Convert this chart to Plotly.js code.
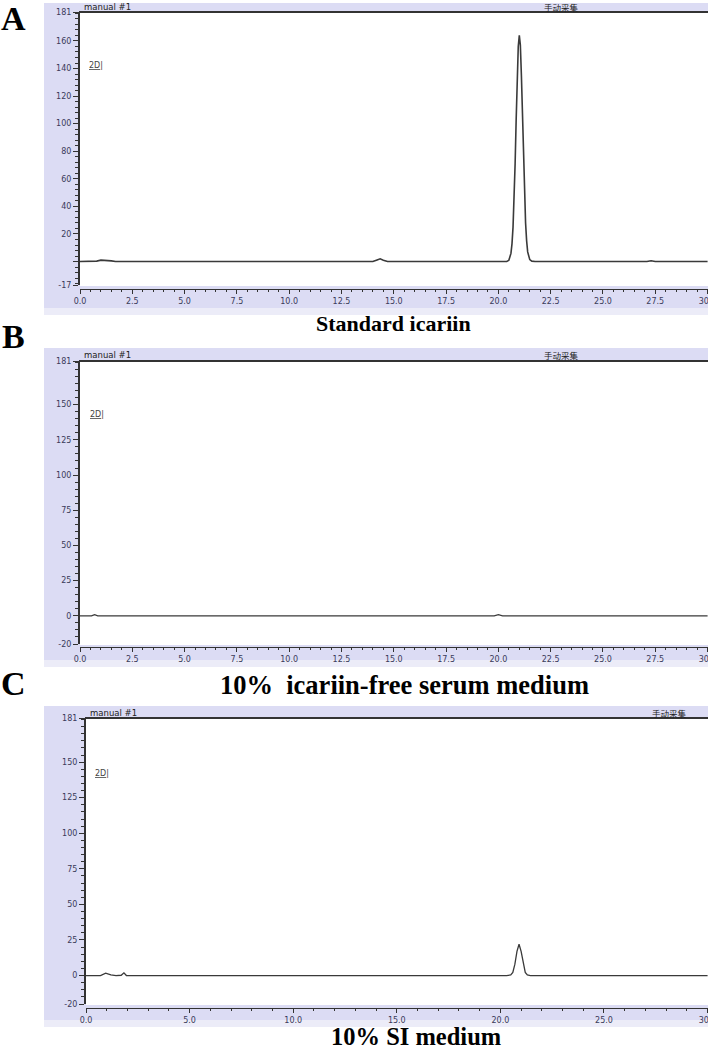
<!DOCTYPE html>
<html>
<head>
<meta charset="utf-8">
<script src="https://cdn.plot.ly/plotly-3.0.1.min.js"></script>
<style>body{margin:0;background:#fff}</style>
</head>
<body>
<div id="chart" style="width:708px;height:1050px"></div>
<script>
// retention time (min) and detector signal
const timeA = [0, 0.8, 1.0, 1.2, 1.5, 1.7, 14.0, 14.2, 14.35, 14.5, 14.7, 20.4, 20.5, 20.6, 20.65, 20.7, 20.75, 20.8, 20.85, 20.9, 20.95, 21.0, 21.05, 21.1, 21.15, 21.2, 21.25, 21.3, 21.35, 21.4, 21.5, 21.6, 21.75, 27.1, 27.3, 27.5, 30];
const signalA = [0, 0.3, 1.0, 1.0, 0.5, 0, 0, 1.2, 2.0, 1.0, 0, 0, 0.9, 5.9, 12.8, 25, 45, 71, 103, 133, 156, 164, 157, 135, 106, 75, 48, 28, 15, 7, 1.4, 0.3, 0, 0, 0.6, 0, 0];

const timeB = [0, 0.55, 0.7, 0.85, 19.8, 20.0, 20.2, 30];
const signalB = [0, 0, 0.8, 0, 0, 0.8, 0, 0];

const timeC = [0, 0.7, 0.95, 1.2, 1.45, 1.7, 1.83, 1.95, 20.3, 20.5, 20.6, 20.7, 20.8, 20.9, 21.0, 21.1, 21.2, 21.3, 21.45, 30];
const signalC = [0, 0, 1.7, 0.5, 0, 0.2, 1.9, 0, 0, 0.4, 2.2, 8, 17, 22, 17, 8, 2.2, 0.4, 0, 0];

// tick labels
const yTicksA = [181, 160, 140, 120, 100, 80, 60, 40, 20, 0, -17];
const yTextA = ['181', '160', '140', '120', '100', '80', '60', '40', '20', '', '-17'];
const yTicksBC = [181, 150, 125, 100, 75, 50, 25, 0, -20];
const yTextBC = ['181', '150', '125', '100', '75', '50', '25', '0', '-20'];

const panelLetters = ['A', 'B', 'C'];
const captions = ['Standard icariin', '10%&nbsp; icariin-free serum medium', '10% SI medium'];

const W = 708, H = 1050;
const px = x => x / W;
const py = y => 1 - y / H;

const lav = '#dcdcf4';
const axisColor = '#333';
const tickFont = { family: 'DejaVu Sans', size: 8, color: '#3a3a5a' };

function makeX(left, pos, step, minorStep) {
    return {
        domain: [px(left), 1],
        range: [0, 30.02],
        anchor: 'free',
        position: py(pos),
        dtick: step,
        tick0: 0,
        tickformat: '.1f',
        ticks: 'outside',
        ticklen: 4,
        tickcolor: axisColor,
        ticklabeloverflow: 'allow',
        minor: { dtick: minorStep, tick0: 0, ticks: 'outside', ticklen: 2, tickcolor: axisColor },
        showline: true,
        linecolor: axisColor,
        linewidth: 1,
        showgrid: false,
        zeroline: false,
        tickfont: tickFont,
    };
}

function makeY(top, bottom, range, vals, text, minorStep, xname) {
    return {
        domain: [py(bottom), py(top)],
        range: range,
        anchor: xname,
        tickmode: 'array',
        tickvals: vals,
        ticktext: text,
        ticks: 'outside',
        ticklen: 5,
        tickcolor: axisColor,
        minor: { dtick: minorStep, tick0: 0, ticks: 'outside', ticklen: 3, tickcolor: axisColor },
        showline: true,
        linecolor: axisColor,
        linewidth: 2,
        showgrid: false,
        zeroline: false,
        tickfont: tickFont,
    };
}

const lineStyle = { color: '#3a3a3a', width: 1.3 };
const data = [
    { x: timeA, y: signalA, xaxis: 'x', yaxis: 'y', mode: 'lines', line: { color: '#3a3a3a', width: 1.6 } },
    { x: timeB, y: signalB, xaxis: 'x2', yaxis: 'y2', mode: 'lines', line: lineStyle },
    { x: timeC, y: signalC, xaxis: 'x3', yaxis: 'y3', mode: 'lines', line: lineStyle },
];

// pixel boxes of the three panels: lavender frame, plot area, x axis line, captions
const panels = [
    { bgTop: 3, bgBottom: 308, shade: 315, left: 80, top: 12, bottom: 285, headY: 7, cnX: 561, capY: 323, capX: 393, capSize: 22, letterY: 19, tagY: 65, tagX: 87 },
    { bgTop: 348, bgBottom: 660, shade: 667, left: 80, top: 361, bottom: 644, headY: 355, cnX: 561, capY: 685, capX: 404, capSize: 26.5, letterY: 337, tagY: 415, tagX: 88 },
    { bgTop: 706, bgBottom: 1020, shade: 1027, left: 86, top: 718, bottom: 1004, headY: 713, cnX: 669, capY: 1036, capX: 416, capSize: 24.5, letterY: 683, tagY: 773, tagX: 93 },
];

const shapes = [];
const annotations = [];
panels.forEach((p, i) => {
    shapes.push({ type: 'rect', xref: 'paper', yref: 'paper', x0: px(44), x1: 1, y0: py(p.bgBottom), y1: py(p.bgTop), fillcolor: lav, line: { width: 0 }, layer: 'below' });
    shapes.push({ type: 'rect', xref: 'paper', yref: 'paper', x0: px(44), x1: 1, y0: py(p.shade), y1: py(p.bgBottom), fillcolor: '#ececf8', line: { width: 0 }, layer: 'below' });
    shapes.push({ type: 'rect', xref: 'paper', yref: 'paper', x0: px(p.left), x1: 1, y0: py(p.bottom + 1), y1: py(p.top), fillcolor: '#ffffff', line: { width: 0 }, layer: 'below' });
    shapes.push({ type: 'line', xref: 'paper', yref: 'paper', x0: px(p.left - 1), x1: 1, y0: py(p.top), y1: py(p.top), line: { color: axisColor, width: 2 } });

    annotations.push({ text: 'manual #1', xref: 'paper', yref: 'paper', x: px(p.left + 2), y: py(p.headY), xanchor: 'left', yanchor: 'middle', showarrow: false, font: { family: 'DejaVu Sans', size: 8.5, color: '#222' } });
    annotations.push({ text: '手动采集', xref: 'paper', yref: 'paper', x: px(p.cnX), y: py(p.headY), xanchor: 'center', yanchor: 'middle', showarrow: false, font: { family: 'Noto Sans CJK SC', size: 8.5, color: '#222' } });
    annotations.push({ text: '<u>2D</u>|', xref: 'paper', yref: 'paper', x: px(p.tagX), y: py(p.tagY), xanchor: 'left', yanchor: 'middle', showarrow: false, font: { family: 'DejaVu Sans', size: 8, color: '#444' } });
    annotations.push({ text: '<b>' + panelLetters[i] + '</b>', xref: 'paper', yref: 'paper', x: px(13), y: py(p.letterY), xanchor: 'center', yanchor: 'middle', showarrow: false, font: { family: 'Liberation Serif', size: 34, color: '#000' } });
    annotations.push({ text: '<b>' + captions[i] + '</b>', xref: 'paper', yref: 'paper', x: px(p.capX), y: py(p.capY), xanchor: 'center', yanchor: 'middle', showarrow: false, font: { family: 'Liberation Serif', size: p.capSize, color: '#000' } });
});

const layout = {
    width: W,
    height: H,
    margin: { l: 0, r: 0, t: 0, b: 0 },
    paper_bgcolor: '#ffffff',
    plot_bgcolor: 'rgba(0,0,0,0)',
    showlegend: false,
    xaxis: makeX(80, 289, 2.5, 0.5),
    yaxis: makeY(12, 285, [-17, 181], yTicksA, yTextA, 4, 'x'),
    xaxis2: makeX(80, 647, 2.5, 0.5),
    yaxis2: makeY(361, 644, [-20, 181], yTicksBC, yTextBC, 5, 'x2'),
    xaxis3: makeX(86, 1008, 5, 1),
    yaxis3: makeY(718, 1004, [-20, 181], yTicksBC, yTextBC, 5, 'x3'),
    shapes: shapes,
    annotations: annotations,
};

Plotly.newPlot('chart', data, layout, { staticPlot: true });
</script>
</body>
</html>
